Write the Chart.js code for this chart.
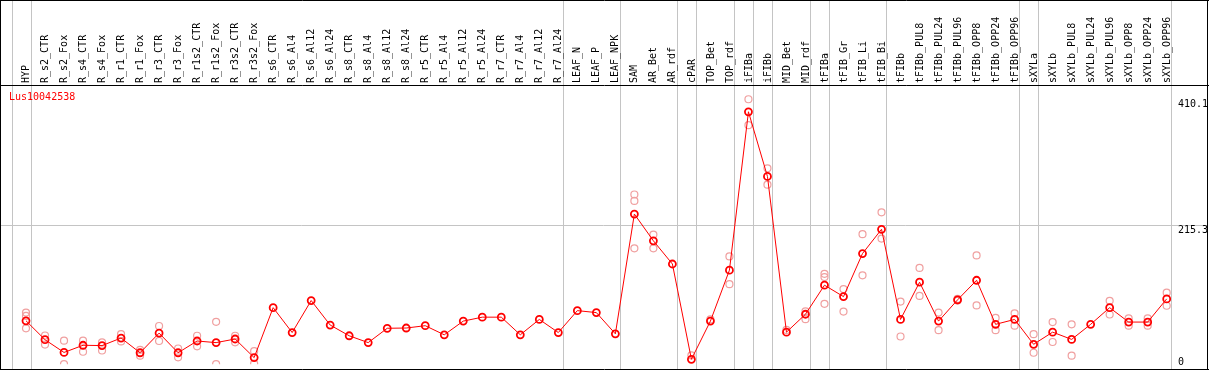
<!DOCTYPE html>
<html>
<head>
<meta charset="utf-8">
<script src="https://cdn.jsdelivr.net/npm/chart.js@4"></script>
<style>
  html, body { margin: 0; padding: 0; background: #fff; }
  #wrap { position: relative; width: 1209px; height: 370px; }
</style>
</head>
<body>
<div id="wrap"><canvas id="chart"></canvas></div>
<script>
// 発現プロファイル (Lus10042538)

const seriesName = 'Lus10042538';

const categories = [
  'HYP', 'R_s2_CTR', 'R_s2_Fox', 'R_s4_CTR', 'R_s4_Fox', 'R_r1_CTR', 'R_r1_Fox', 'R_r3_CTR', 'R_r3_Fox',
  'R_r1s2_CTR', 'R_r1s2_Fox', 'R_r3s2_CTR', 'R_r3s2_Fox', 'R_s6_CTR', 'R_s6_Al4', 'R_s6_Al12', 'R_s6_Al24',
  'R_s8_CTR', 'R_s8_Al4', 'R_s8_Al12', 'R_s8_Al24', 'R_r5_CTR', 'R_r5_Al4', 'R_r5_Al12', 'R_r5_Al24',
  'R_r7_CTR', 'R_r7_Al4', 'R_r7_Al12', 'R_r7_Al24', 'LEAF_N', 'LEAF_P', 'LEAF_NPK', 'SAM', 'AR_Bet', 'AR_rdf',
  'cPAR', 'TOP_Bet', 'TOP_rdf', 'iFIBa', 'iFIBb', 'MID_Bet', 'MID_rdf', 'tFIBa', 'tFIB_Gr', 'tFIB_Li', 'tFIB_Bi',
  'tFIBb', 'tFIBb_PUL8', 'tFIBb_PUL24', 'tFIBb_PUL96', 'tFIBb_OPP8', 'tFIBb_OPP24', 'tFIBb_OPP96',
  'sXYLa', 'sXYLb', 'sXYLb_PUL8', 'sXYLb_PUL24', 'sXYLb_PUL96', 'sXYLb_OPP8', 'sXYLb_OPP24', 'sXYLb_OPP96'
];

// 平均値
const meanValues = [
  67.2, 37.9, 18.2, 29.3, 28.8, 40.5, 17.7, 48.1, 17.7,
  35.9, 33.4, 39.0, 10.2, 87.5, 49.0, 98.5, 60.6,
  44.0, 33.4, 55.6, 56.0, 59.6, 45.5, 66.7, 72.8,
  72.8, 45.5, 69.3, 49.0, 82.9, 79.9, 47.0, 232.4, 191.0, 155.1,
  7.6, 66.7, 145.5, 390.7, 290.6, 49.6, 77.3, 122.3, 104.6, 171.3, 208.8,
  69.3, 126.9, 66.7, 99.6, 129.9, 61.7, 69.3,
  30.8, 49.6, 38.4, 61.7, 87.5, 65.2, 65.2, 101.1
];

// 反復測定値
const rep1Values = [
  79.9, 44.4, 36.4, 36.4, 33.8, 46.5, 22.3, 59.1, 24.3,
  44.0, 65.6, 44.0, 20.2, null, null, null, null,
  null, null, null, null, null, null, null, null,
  null, null, null, null, null, null, null, 262.7, 200.6, null,
  13.6, 69.3, 166.8, 410.1, 303.2, 53.1, 81.9, 139.9, 116.3, 201.2, 235.0,
  97.0, 149.0, 79.9, 101.0, 168.3, 71.7, 78.8,
  46.5, 65.2, 61.7, null, 98.1, 70.8, 70.8, 110.7
];

const rep2Values = [
  74.7, 30.3, 0, 19.3, 21.2, 35.3, 13.2, 35.9, 10.6,
  27.7, 0, 33.8, 1.0, null, null, null, null,
  null, null, null, null, null, null, null, null,
  null, null, null, null, null, null, null, 252.7, 179.4, null,
  null, null, 123.9, 369.9, 277.9, null, 69.7, 134.9, 81.4, 137.5, 194.5,
  42.9, 105.7, 52.6, 98.5, 91.0, 52.6, 59.6,
  17.7, 34.4, 13.2, null, 76.9, 59.6, 59.6, 90.5
];

const rep3Values = [
  55.6, null, null, null, null, null, null, null, null,
  null, null, null, null, null, null, null, null,
  null, null, null, null, null, null, null, null,
  null, null, null, null, null, null, null, 179.4, null, null,
  null, null, null, null, null, null, null, 93.5, null, null, null,
  null, null, null, null, null, null, null,
  null, null, null, null, null, null, null, null
];

const yMax = 430.6;
const yTickLabels = ['410.1', '215.3', '0'];
const yTickValues = [410.1, 215.3, 0];
const gridValues = [215.3];
// この項目の後ろに区切り線
const groupBreaks = [-1, 0, 28, 31, 34, 35, 37, 38, 39, 41, 42, 45, 52, 53, 60];

const COLORS = {
  line: '#ff0000',
  rep: '#f0a0a0',
  grid: '#c4c4c4',
  border: '#000000',
  text: '#000000'
};

const FONT = '10px "DejaVu Sans Mono", monospace';

const framePlugin = {
  id: 'frame',
  beforeDatasetsDraw(chart) {
    const { ctx, scales: { x, y } } = chart;
    const W = chart.width, H = chart.height;
    const step = x.getPixelForValue(1) - x.getPixelForValue(0);
    ctx.save();
    ctx.fillStyle = '#fff';
    ctx.fillRect(0, 0, W, H);

    // 区切り線
    ctx.strokeStyle = COLORS.grid;
    ctx.lineWidth = 1;
    groupBreaks.forEach(i => {
      const px = Math.round(x.getPixelForValue(0) + (i + 0.24) * step) + 0.5;
      ctx.beginPath();
      ctx.moveTo(px, 0);
      ctx.lineTo(px, H);
      ctx.stroke();
    });
    gridValues.forEach(v => {
      const py = Math.round(y.getPixelForValue(v)) + 0.5;
      ctx.beginPath();
      ctx.moveTo(0, py);
      ctx.lineTo(W - 2, py);
      ctx.stroke();
    });

    // 項目名 (縦書き)
    ctx.font = FONT;
    ctx.fillStyle = COLORS.text;
    ctx.textAlign = 'left';
    ctx.textBaseline = 'middle';
    categories.forEach((label, i) => {
      ctx.save();
      ctx.translate(x.getPixelForValue(i) + 0.5, 83);
      ctx.rotate(-Math.PI / 2);
      ctx.fillText(label, 0, 0);
      ctx.restore();
    });

    // 系列名
    ctx.fillStyle = COLORS.line;
    ctx.fillText(seriesName, 9, 97);
    ctx.restore();
  },
  afterDraw(chart) {
    const { ctx, scales: { y } } = chart;
    const W = chart.width, H = chart.height;
    ctx.save();
    ctx.strokeStyle = COLORS.border;
    ctx.lineWidth = 1;
    ctx.beginPath();
    ctx.moveTo(0.5, 0); ctx.lineTo(0.5, H);
    ctx.moveTo(0, 0.5); ctx.lineTo(W, 0.5);
    ctx.moveTo(0, 85.5); ctx.lineTo(W, 85.5);
    ctx.moveTo(W - 1.5, 0); ctx.lineTo(W - 1.5, H);
    ctx.moveTo(0, H - 0.5); ctx.lineTo(W, H - 0.5);
    ctx.stroke();

    ctx.font = FONT;
    ctx.fillStyle = COLORS.text;
    ctx.textAlign = 'left';
    ctx.textBaseline = 'middle';
    yTickValues.forEach((v, i) => {
      const py = Math.min(y.getPixelForValue(v) + 5, 362);
      ctx.fillText(yTickLabels[i], 1178, py);
    });
    ctx.restore();
  }
};

function repDataset(data) {
  return {
    data,
    showLine: false,
    pointStyle: 'circle',
    pointRadius: 3.5,
    pointBorderWidth: 1.2,
    pointBorderColor: COLORS.rep,
    pointBackgroundColor: 'rgba(0,0,0,0)',
    order: 1
  };
}

new Chart(document.getElementById('chart'), {
  type: 'line',
  data: {
    labels: categories,
    datasets: [
      {
        label: seriesName,
        data: meanValues,
        borderColor: COLORS.line,
        borderWidth: 1,
        tension: 0,
        pointStyle: 'circle',
        pointRadius: 3.5,
        pointBorderWidth: 1.8,
        pointBorderColor: COLORS.line,
        pointBackgroundColor: 'rgba(0,0,0,0)',
        order: 0
      },
      repDataset(rep1Values),
      repDataset(rep2Values),
      repDataset(rep3Values)
    ]
  },
  options: {
    responsive: true,
    maintainAspectRatio: false,
    animation: false,
    layout: { padding: { left: 26, right: 42.3, top: 86, bottom: 0 } },
    plugins: { legend: { display: false }, tooltip: { enabled: false } },
    scales: {
      x: { type: 'category', display: false, offset: false },
      y: { display: false, min: 0, max: yMax }
    }
  },
  plugins: [framePlugin]
});
</script>
</body>
</html>
